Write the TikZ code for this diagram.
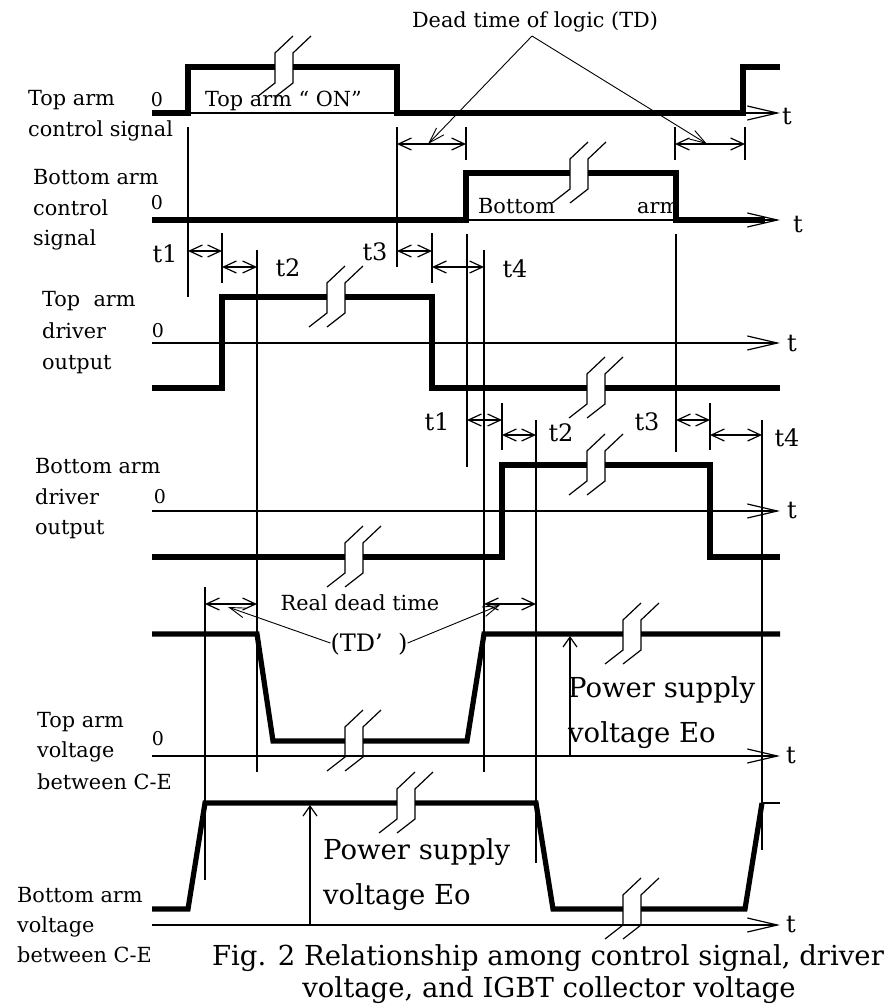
\documentclass[tikz,border=0pt]{standalone}
\usepackage{fontspec}
\setmainfont{DejaVu Serif}
\usetikzlibrary{arrows.meta}
\newcommand\brkmark[2]{%
  \fill[white] ({#1-9},{#2-6}) rectangle ({#1+9},{#2+6});
  \draw[thinl] ({#1+9},{#2-31}) -- ({#1-9},{#2-14}) -- ({#1-9},{#2+16}) -- ({#1-27},{#2+30});
  \draw[thinl] ({#1+27},{#2-31}) -- ({#1+9},{#2-14}) -- ({#1+9},{#2+16}) -- ({#1-9},{#2+30});
}
\tikzset{
  wave/.style={line width=5.2pt, line join=miter, line cap=butt},
  thinl/.style={line width=1.2pt},
  dim/.style={thinl, {Straight Barb[length=13pt,width=12pt]}-{Straight Barb[length=13pt,width=12pt]}},
  axis/.style={thinl, -{Straight Barb[length=30pt,width=14pt]}},
  lead/.style={line width=0.9pt, -{Straight Barb[length=16pt,width=10pt]}},
  upar/.style={thinl, -{Straight Barb[length=10pt,width=14pt]}},
  lbl/.style={font=\fontsize{20.8}{22}\selectfont, inner sep=0pt, anchor=west, text height=15pt, text depth=4.8pt},
  tl/.style={font=\fontsize{24}{26}\selectfont, inner sep=0pt, text height=17.5pt, text depth=0pt},
  big/.style={font=\fontsize{27.5}{30}\selectfont, inner sep=0pt, anchor=west, text height=20pt, text depth=6pt},
  zero/.style={font=\fontsize{19}{20}\selectfont, inner sep=0pt},
}
\begin{document}
\begin{tikzpicture}[x=1pt,y=-1pt]
\useasboundingbox[fill=white] (0,0) rectangle (888,1007);

% ---------- left labels ----------
\node[lbl] (l1a) at (28,100) {Top arm};
\node[lbl] (l1b) at (28,131) {control signal};
\node[lbl] (l2a) at (33,179) {Bottom arm};
\node[lbl] (l2b) at (33,210) {control};
\node[lbl] (l2c) at (33,240) {signal};
\node[lbl] (l3a) at (42,301) {Top\ \ arm};
\node[lbl] (l3b) at (42,333) {driver};
\node[lbl] (l3c) at (42,364) {output};
\node[lbl] (l4a) at (35,468) {Bottom arm};
\node[lbl] (l4b) at (35,499) {driver};
\node[lbl] (l4c) at (35,529) {output};
\node[lbl] (l5a) at (37,722) {Top arm};
\node[lbl] (l5b) at (37,752) {voltage};
\node[lbl] (l5c) at (37,784) {between C-E};
\node[lbl] (l6a) at (17,897) {Bottom arm};
\node[lbl] (l6b) at (17,927) {voltage};
\node[lbl] (l6c) at (17,957) {between C-E};

% zero labels
\node[zero] (z1) at (157,100) {0};
\node[zero] (z2) at (157,203) {0};
\node[zero] (z3) at (158,331) {0};
\node[zero] (z4) at (160,497) {0};
\node[zero] (z5) at (158,739) {0};

% ---------- inner texts ----------
\node[lbl] (topon) at (205,101) {Top arm “ ON”};
\node[lbl] (botx) at (478,208) {Bottom};
\node[lbl] (botarm) at (637,208) {arm};
\node[lbl,anchor=center] (td) at (535,22) {Dead time of logic (TD)};
\node[lbl,anchor=center] (rdt) at (360,605) {Real dead time};
\node[tl] (tdp) at (369,643) {(TD’\ \ )};
\node[big] (ps1a) at (568,690) {Power supply};
\node[big] (ps1b) at (568,735) {voltage Eo};
\node[big] (ps2a) at (323,852) {Power supply};
\node[big] (ps2b) at (323,897) {voltage Eo};
\node[big,anchor=center] (cap1) at (548,958) {Fig. 2 Relationship among control signal, driver};
\node[big,anchor=center] (cap2) at (549,990) {voltage, and IGBT collector voltage};

% t labels
\node[tl] (ta1) at (165,254) {t1};
\node[tl] (ta2) at (288,268) {t2};
\node[tl] (ta3) at (375,252) {t3};
\node[tl] (ta4) at (515,269) {t4};
\node[tl] (tb1) at (437,422) {t1};
\node[tl] (tb2) at (561,433) {t2};
\node[tl] (tb3) at (647,422) {t3};
\node[tl] (tb4) at (787,438) {t4};
\node[tl] (ax1) at (787,116) {t};
\node[tl] (ax2) at (798,224) {t};
\node[tl] (ax3) at (792,343) {t};
\node[tl] (ax4) at (792,510) {t};
\node[tl] (ax5) at (791,755) {t};
\node[tl] (ax6) at (791,924) {t};

% ---------- thin vertical guide lines ----------
\draw[thinl] (188,127) -- (188,297);
\draw[thinl] (222,233) -- (222,283);
\draw[thinl] (257,250) -- (257,772);
\draw[thinl] (397,127) -- (397,267);
\draw[thinl] (432,233) -- (432,283);
\draw[thinl] (466,127) -- (466,160);
\draw[thinl] (467,234) -- (467,467);
\draw[thinl] (484,250) -- (484,772);
\draw[thinl] (502,403) -- (502,450);
\draw[thinl] (536,420) -- (536,863);
\draw[thinl] (675,127) -- (675,160);
\draw[thinl] (676,234) -- (676,452);
\draw[thinl] (710,403) -- (710,450);
\draw[thinl] (745,127) -- (745,160);
\draw[thinl] (762,420) -- (762,850);
\draw[thinl] (205,587) -- (205,880);

% ---------- dimension arrows ----------
\draw[dim] (397,144) -- (466,144);
\draw[dim] (675,144) -- (745,144);
\draw[dim] (188,251) -- (222,251);
\draw[dim] (222,267) -- (257,267);
\draw[dim] (397,251) -- (432,251);
\draw[dim] (432,267) -- (484,267);
\draw[dim] (467,420) -- (502,420);
\draw[dim] (502,435) -- (536,435);
\draw[dim] (676,420) -- (710,420);
\draw[dim] (710,435) -- (762,435);
\draw[dim] (205,604) -- (257,604);
\draw[dim] (484,604) -- (536,604);

% ---------- axes ----------
\draw[axis] (152,113) -- (780,113);
\draw[axis] (152,220) -- (780,220);
\draw[axis] (152,343) -- (780,343);
\draw[axis] (152,511) -- (780,511);
\draw[axis] (152,756) -- (780,756);
\draw[axis] (152,925) -- (780,925);

% ---------- waveforms ----------
\draw[wave] (152,113) -- (188,113) -- (188,67) -- (397,67) -- (397,113) -- (743,113) -- (743,67) -- (780,67);
\draw[wave] (152,220) -- (466,220) -- (466,173) -- (676,173) -- (676,220) -- (765,220);
\draw[wave] (152,388) -- (222,388) -- (222,297) -- (432,297) -- (432,388) -- (780,388);
\draw[wave] (152,557) -- (502,557) -- (502,465) -- (710,465) -- (710,557) -- (780,557);
\draw[wave] (152,634) -- (257,634) -- (273,741) -- (467,741) -- (484,634) -- (780,634);
\draw[wave] (152,909) -- (188,909) -- (205,803) -- (536,803) -- (553,909) -- (745,909) -- (762,803);
\draw[thinl] (762,803) -- (780,803);

% ---------- break marks ----------
\brkmark{284}{67}
\brkmark{579}{173}
\brkmark{336}{297}
\brkmark{596}{388}
\brkmark{354}{557}
\brkmark{596}{465}
\brkmark{632}{634}
\brkmark{354}{741}
\brkmark{406}{803}
\brkmark{632}{909}

% ---------- leaders ----------
\coordinate (apex) at (532,36);
\coordinate (tdl) at (428,144);
\coordinate (tdr) at (707,144);
\draw[lead] (apex) -- (tdl);
\draw[lead] (apex) -- (tdr);
\coordinate (rdl) at (228,607);
\coordinate (rdr) at (500,605);
\draw[lead] (tdp.west) -- (rdl);
\draw[lead] (tdp.east) -- (rdr);

% power supply arrows
\draw[upar] (570,756) -- (570,636);
\draw[upar] (310,925) -- (310,805);
\end{tikzpicture}
\end{document}
